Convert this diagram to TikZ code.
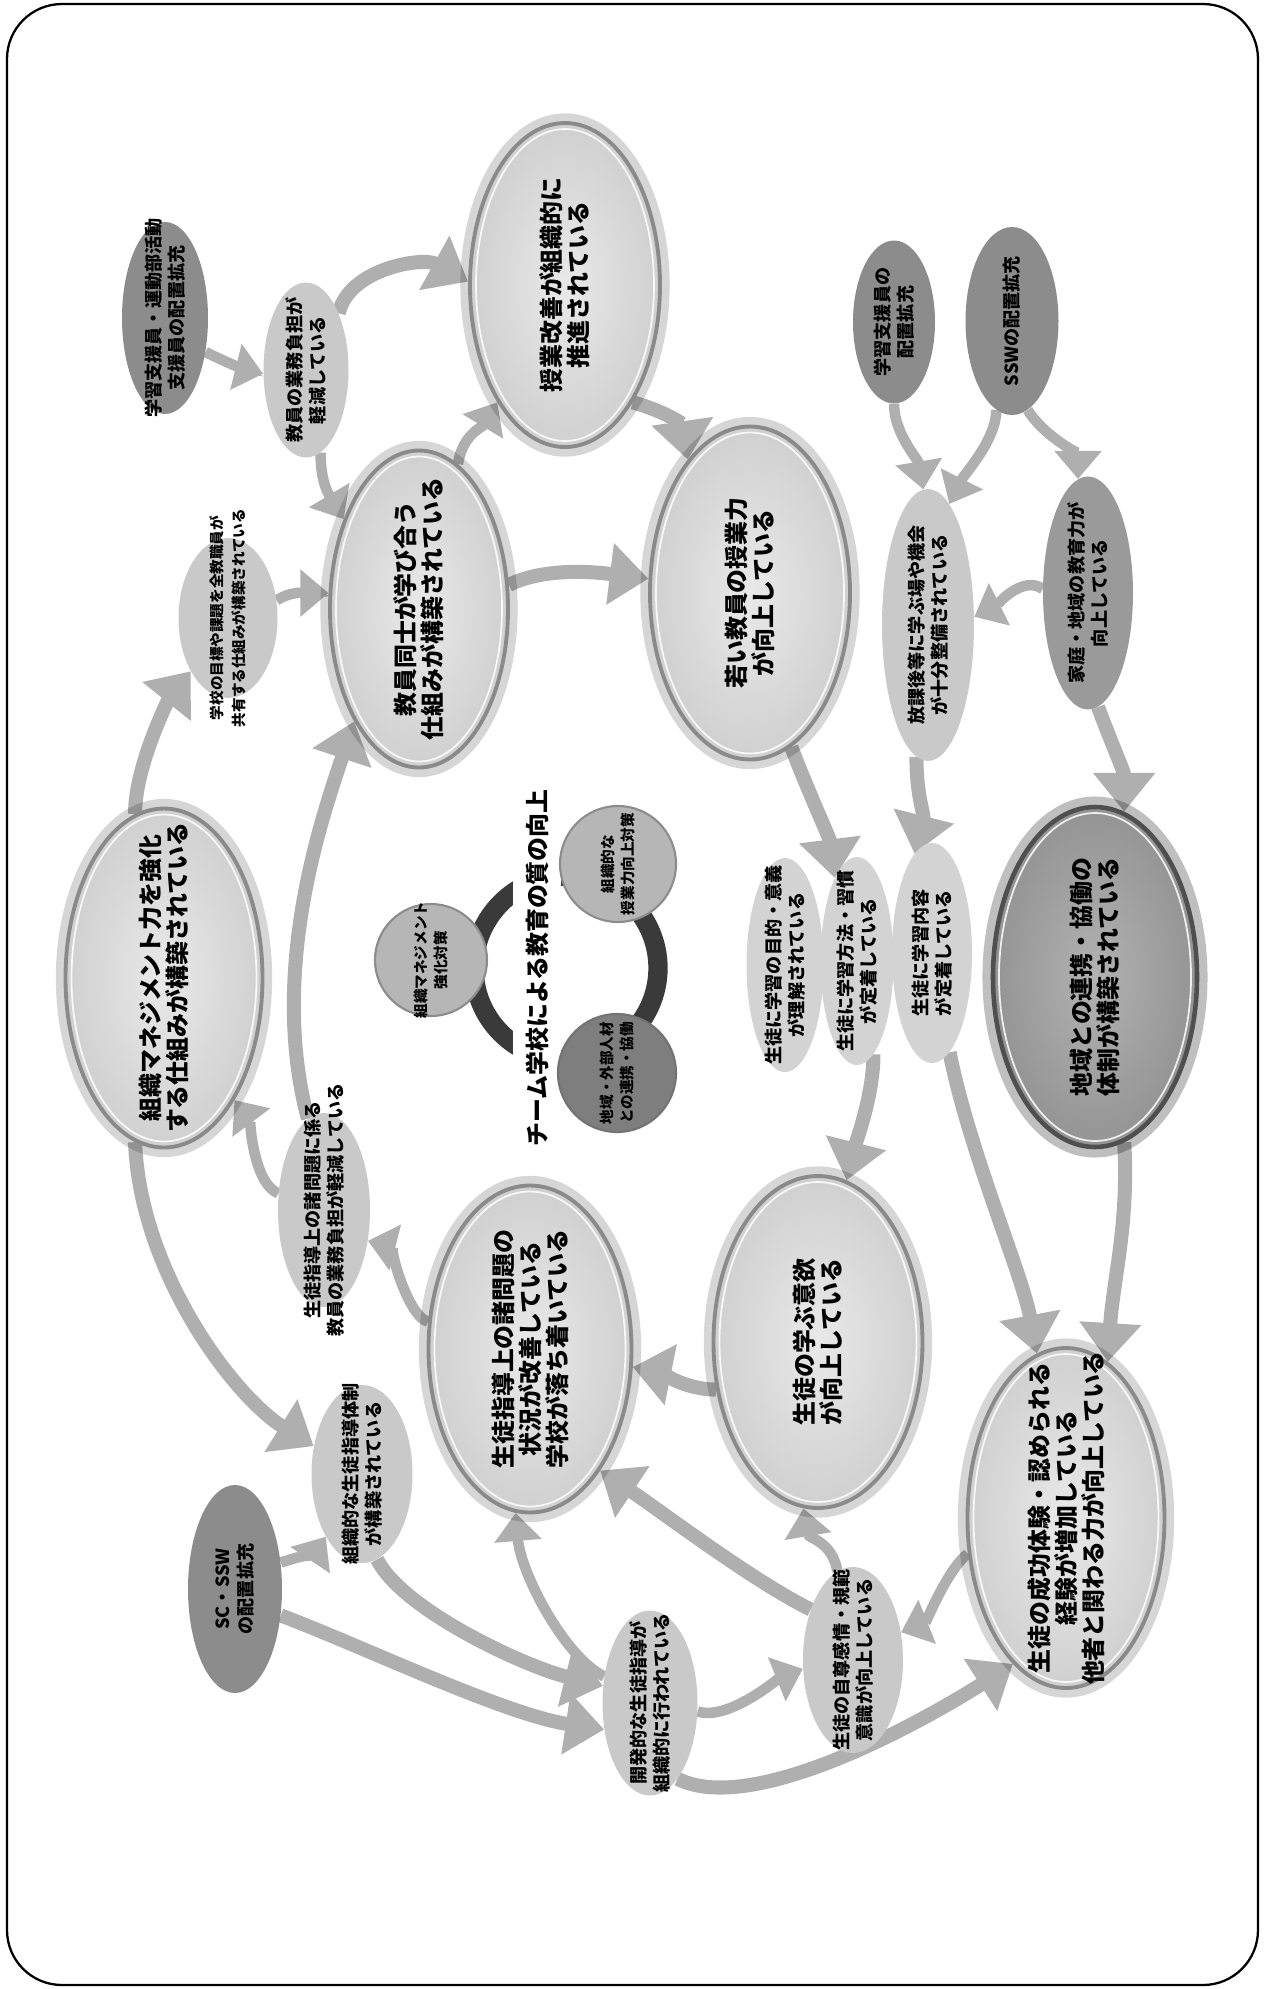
\documentclass[tikz,border=0pt]{standalone}
\usepackage{fontspec}
\setmainfont{Noto Sans CJK JP}
\usetikzlibrary{shapes.geometric,arrows.meta}
\pgfdeclarelayer{bg}
\pgfsetlayers{bg,main}
\definecolor{bigin}{HTML}{E9E9E9}
\definecolor{bigout}{HTML}{D0D0D0}
\definecolor{bigrim}{HTML}{8A8A8A}
\definecolor{pin}{HTML}{B2B2B2}
\definecolor{pout}{HTML}{949494}
\definecolor{prim}{HTML}{4F4F4F}
\definecolor{darkE}{HTML}{8C8C8C}
\definecolor{midE}{HTML}{9A9A9A}
\definecolor{lightE}{HTML}{C9C9C9}
\definecolor{paleE}{HTML}{D3D3D3}
\definecolor{arrc}{HTML}{AFAFAF}
\definecolor{ringc}{HTML}{3A3A3A}
\definecolor{circA}{HTML}{B6B6B6}
\definecolor{circB}{HTML}{7E7E7E}
\newcommand\BigEll[7]{%
  \node[#2, wh={#5}{#6}] (#1) at (#3,#4) {};
  \draw[white, line width=1pt, opacity=.85] (#1.center) ellipse [x radius={#5/2-6}, y radius={#6/2-6}];
  \node[bt] at (#1.center) {#7};}
\newcommand\SmEll[7]{%
  \node[ellipse, inner sep=0pt, fill=#2, wh={#5}{#6}] (#1) at (#3,#4) {};
  \node[st] at (#1.center) {#7};}
\begin{document}
\begin{tikzpicture}[x=0.02cm,y=-0.02cm,
  wh/.style 2 args={minimum width=#1*0.02cm, minimum height=#2*0.02cm},
  bigE/.style={ellipse, inner sep=0pt, draw=bigrim, line width=2.2pt, inner color=bigin, outer color=bigout,
     preaction={draw=black, draw opacity=.16, line width=11pt}},
  bigP/.style={ellipse, inner sep=0pt, draw=prim, line width=2.6pt, inner color=pin, outer color=pout,
     preaction={draw=black, draw opacity=.25, line width=12pt}},
  bt/.style={rotate=90, align=center, inner sep=0pt, font=\bfseries\fontsize{13.6pt}{15.4pt}\selectfont},
  st/.style={rotate=90, align=center, inner sep=0pt, font=\bfseries\fontsize{10.3pt}{12.8pt}\selectfont},
  ct/.style={rotate=90, align=center, inner sep=0pt, font=\bfseries\fontsize{8.3pt}{11.5pt}\selectfont},
  arr/.style={draw=arrc, line width=8pt, -{Triangle[length=22pt,width=34pt]}},
  arrS/.style={draw=arrc, line width=6pt, -{Triangle[length=16pt,width=26pt]}}
]
\useasboundingbox (0,0) rectangle (1265,1989);
\draw[line width=1.3pt, rounded corners=1.1cm] (7,4) rectangle (1258,1985);

% ---- top / left ----
\SmEll{A}{darkE}{165}{318}{86}{192}{学習支援員・運動部活動\\支援員の配置拡充}
\SmEll{B}{lightE}{306}{370}{85}{175}{教員の業務負担が\\軽減している}
\BigEll{C}{bigE}{565}{285}{190}{324}{授業改善が組織的に\\推進されている}
\SmEll{D}{darkE}{894}{322}{82}{163}{学習支援員の\\配置拡充}
\SmEll{E}{darkE}{1012}{321}{93}{188}{SSWの配置拡充}
\BigEll{F}{bigE}{419}{609}{178}{317}{教員同士が学び合う\\仕組みが構築されている}
\node[ellipse, inner sep=0pt, fill=lightE, wh={99}{160}] (G) at (228,618) {};
\node[ct, font=\bfseries\fontsize{8.3pt}{12.5pt}\selectfont] at (G.center) {学校の目標や課題を全教職員が\\共有する仕組みが構築されている};
\BigEll{H}{bigE}{750}{593}{200}{333}{若い教員の授業力\\が向上している}
\SmEll{I}{lightE}{928}{625}{92}{272}{放課後等に学ぶ場や機会\\が十分整備されている}
\SmEll{J}{midE}{1088}{593}{90}{233}{家庭・地域の教育力が\\向上している}
\BigEll{K}{bigE}{164}{978}{197}{339}{組織マネジメント力を強化\\する仕組みが構築されている}

% ---- centre ----
\draw[ringc, line width=11pt] (566,968) circle [radius=92];
\node[rotate=90, fill=white, inner xsep=2pt, inner ysep=7pt, font=\bfseries\fontsize{13.6pt}{15pt}\selectfont] (title) at (537,968) {チーム学校による教育の質の向上};
\node[circle, inner sep=0pt, fill=circA, draw=black!45, line width=1.2pt, wh={112}{112}] (c1) at (431,960) {};
\node[ct] at (c1.center) {組織マネジメント\\強化対策};
\node[circle, inner sep=0pt, fill=circA, draw=black!45, line width=1.2pt, wh={116}{116}] (c2) at (618,864) {};
\node[ct] at (c2.center) {組織的な\\授業力向上対策};
\node[circle, inner sep=0pt, fill=circB, draw=black!55, line width=1.2pt, wh={118}{118}] (c3) at (617,1073) {};
\node[ct] at (c3.center) {地域・外部人材\\との連携・協働};

% ---- right middle ----
\SmEll{M}{paleE}{785}{965}{77}{214}{生徒に学習の目的・意義\\が理解されている}
\SmEll{N}{paleE}{857}{961}{73}{208}{生徒に学習方法・習慣\\が定着している}
\SmEll{O}{paleE}{932}{953}{80}{220}{生徒に学習内容\\が定着している}
\BigEll{P}{bigP}{1095}{977}{204}{340}{地域との連携・協働の\\体制が構築されている}

% ---- bottom ----
\SmEll{Q}{lightE}{324}{1210}{92}{194}{生徒指導上の諸問題に係る\\教員の業務負担が軽減している}
\BigEll{R}{bigE}{530}{1349}{203}{327}{生徒指導上の諸問題の\\状況が改善している\\学校が落ち着いている}
\BigEll{S}{bigE}{818}{1342}{209}{332}{生徒の学ぶ意欲\\が向上している}
\SmEll{T}{lightE}{362}{1474}{101}{178}{組織的な生徒指導体制\\が構築されている}
\SmEll{U}{darkE}{235}{1589}{94}{208}{SC・SSW\\の配置拡充}
\SmEll{V}{lightE}{650}{1703}{95}{185}{開発的な生徒指導が\\組織的に行われている}
\SmEll{W}{lightE}{853}{1660}{100}{186}{生徒の自尊感情・規範\\意識が向上している}
\BigEll{X}{bigE}{1066}{1518}{197}{340}{生徒の成功体験・認められる\\経験が増加している\\他者と関わる力が向上している}

% ---- arrows ----
\begin{pgfonlayer}{bg}
\draw[arrS] (A.-40) .. controls +(20,10) and +(-20,-5) .. (B.185);
\draw[arr] (B.60) .. controls +(10,-45) and +(-45,-25) .. (C.178);
\draw[arrS] (B.-80) .. controls +(0,30) and +(-15,-25) .. (F.130);
\draw[arrS] (F.75) .. controls +(5,-30) and +(-15,25) .. (C.240);
\draw[arr] (C.-60) .. controls +(35,10) and +(-5,-35) .. (H.115);
\draw[arr] (F.15) .. controls +(40,-20) and +(-40,-5) .. (H.172);
\draw[arrS] (G.20) .. controls +(15,-10) and +(-20,0) .. (F.170);
\draw[arr] (K.100) .. controls +(0,-50) and +(-20,25) .. (G.235);
\draw[arr] (Q.100) .. controls +(-40,-150) and +(-30,90) .. (F.240);
\draw[arrS] (Q.160) .. controls +(-25,-10) and +(15,20) .. (K.-60);
\draw[arrS] (R.165) .. controls +(-20,-5) and +(20,5) .. (Q.-35);
\draw[arr] (K.-100) .. controls +(5,130) and +(-80,-50) .. (T.150);
\draw[arr] (H.-75) .. controls +(15,40) and +(-5,-40) .. (N.105);
\draw[arr] (I.-95) .. controls +(0,40) and +(10,-40) .. (O.100);
\draw[arrS] (D.-90) .. controls +(0,30) and +(-5,-30) .. (I.92);
\draw[arrS] (E.-100) .. controls +(0,30) and +(15,-30) .. (I.80);
\draw[arrS] (E.-80) .. controls +(15,25) and +(0,-25) .. (J.95);
\draw[arrS] (J.175) .. controls +(-20,-15) and +(20,-10) .. (I.10);
\draw[arr] (J.-85) .. controls +(15,40) and +(0,-40) .. (P.80);
\draw[arr] (N.-80) .. controls +(0,40) and +(10,-40) .. (S.80);
\draw[arr] (O.-80) .. controls +(20,100) and +(-15,-80) .. (X.100);
\draw[arr] (P.-80) .. controls +(5,80) and +(5,-80) .. (X.75);
\draw[arr] (S.-155) .. controls +(-30,0) and +(25,5) .. (R.-10);
\draw[arrS] (W.100) .. controls +(-5,-30) and +(5,30) .. (S.-95);
\draw[arr] (W.130) .. controls +(-60,-30) and +(60,40) .. (R.-60);
\draw[arrS] (V.150) .. controls +(-40,-20) and +(5,60) .. (R.-95);
\draw[arr] (T.-80) .. controls +(25,50) and +(-80,-20) .. (V.160);
\draw[arrS] (U.30) .. controls +(15,-5) and +(-10,15) .. (T.-120);
\draw[arr] (U.-30) .. controls +(80,30) and +(-100,-15) .. (V.-150);
\draw[arrS] (V.-10) .. controls +(30,10) and +(-25,10) .. (W.-170);
\draw[arr] (V.-70) .. controls +(80,40) and +(-70,45) .. (X.-110);
\draw[arrS] (X.-160) .. controls +(-20,15) and +(25,-10) .. (W.30);
\end{pgfonlayer}
\end{tikzpicture}
\end{document}
